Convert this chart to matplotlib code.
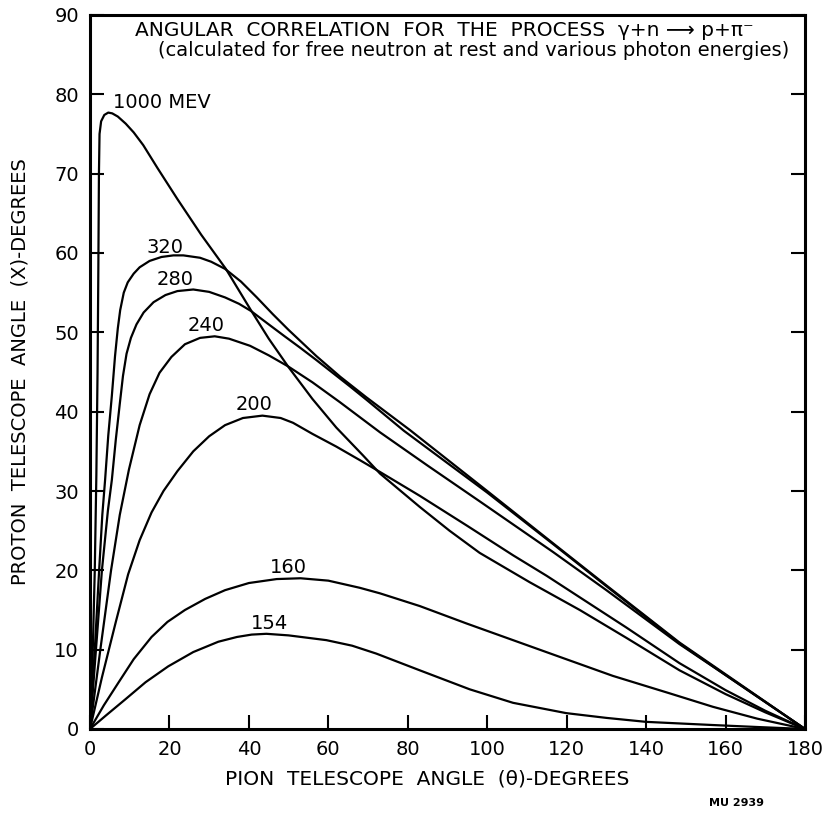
import matplotlib
matplotlib.use("Agg")
import matplotlib.pyplot as plt

# curve points: (pion angle, proton angle) in degrees
x_1000 = [0, 0.6, 1.2, 1.6, 1.9, 2.1, 2.25, 2.4, 2.8, 3.6, 4.6, 5.6, 7, 9, 11, 13.4, 17, 22, 28, 34.2,
          40.5, 45, 50, 56, 62, 68.7, 73, 83, 90.5, 98.1, 110.7, 123.3, 135, 148.4, 160, 170, 180]
y_1000 = [0, 8, 20, 32, 45, 58, 70, 75, 76.6, 77.4, 77.7, 77.6, 77.2, 76.3, 75.2, 73.6, 70.7, 66.8, 62.3, 58.0,
          52.8, 49.2, 45.6, 41.6, 38.0, 34.5, 32.2, 28.0, 25.0, 22.2, 18.5, 15.0, 11.5, 7.4, 4.4, 2.1, 0]

x_320 = [0, 1.2, 2.3, 3.1, 3.8, 4.6, 5.5, 6.3, 7.0, 7.6, 8.5, 9.5, 11, 12.5, 15, 18, 21, 23.5, 27.7, 30.5,
         34, 38, 42, 46, 50, 57, 63, 69.6, 80.5, 100, 116.6, 130, 148.4, 160, 170, 180]
y_320 = [0, 10, 20, 27, 31.4, 37, 42, 47, 50.5, 52.8, 55.0, 56.3, 57.4, 58.2, 59.0, 59.5, 59.7, 59.7, 59.4, 58.9,
         58.0, 56.4, 54.4, 52.3, 50.3, 47.0, 44.4, 41.8, 37.7, 30.0, 23.4, 18.1, 10.9, 6.9, 3.45, 0]

x_280 = [0, 1.5, 3.0, 4.5, 5.5, 6.5, 7.5, 8.3, 9.2, 10.3, 11.7, 13.5, 16, 19, 22, 26, 30, 34, 37.5, 40.5,
         45, 49, 52.8, 57, 65.4, 69.6, 79, 100, 116.6, 130, 148.4, 160, 170, 180]
y_280 = [0, 10, 20, 27.5, 31.4, 36.5, 41, 44.5, 47.3, 49.3, 51.0, 52.5, 53.8, 54.7, 55.2, 55.4, 55.1, 54.4, 53.6, 52.7,
         51.0, 49.5, 48.1, 46.5, 43.2, 41.5, 37.6, 29.8, 23.3, 18.0, 10.8, 6.8, 3.4, 0]

x_240 = [0, 2.6, 5.3, 7.5, 9.8, 12.5, 15, 17.5, 20.5, 23.9, 27.7, 31.4, 35, 40.3, 45, 49.9, 56, 62.9, 73,
         85, 98.1, 116.6, 130, 148.4, 160, 170, 180]
y_240 = [0, 10, 20, 27, 32.7, 38.3, 42.2, 44.9, 46.9, 48.5, 49.3, 49.5, 49.2, 48.3, 47.1, 45.7, 43.7, 41.2, 37.4,
         33.2, 28.7, 22.3, 17.5, 10.7, 6.8, 3.4, 0]

x_200 = [0, 3, 6.5, 9.6, 12.5, 15.5, 18.5, 22, 26, 30, 34, 38.5, 43.4, 48, 51.1, 56, 62, 67.9, 73, 83,
         95, 106.5, 115, 123.3, 135, 148.4, 160, 170, 180]
y_200 = [0, 6.5, 13.5, 19.5, 23.8, 27.3, 30.0, 32.5, 35.0, 36.9, 38.3, 39.2, 39.5, 39.2, 38.6, 37.2, 35.6, 33.9, 32.4, 29.4,
         25.6, 21.9, 19.3, 16.6, 12.8, 8.3, 4.9, 2.3, 0]

x_160 = [0, 3.5, 7.1, 11, 15.5, 19.5, 23.9, 29, 34, 40, 47, 53, 60, 67.9, 73, 83, 94.8, 106.5, 118.2,
         131.6, 145.9, 156.8, 168, 180]
y_160 = [0, 3.0, 5.8, 8.8, 11.6, 13.5, 15.0, 16.4, 17.5, 18.4, 18.9, 19.0, 18.7, 17.8, 17.1, 15.5, 13.3, 11.2, 9.1,
         6.7, 4.5, 2.8, 1.3, 0]

x_154 = [0, 4, 8.8, 14, 19.7, 26, 32.3, 37, 40.7, 44.4, 50, 59.5, 66, 72.1, 83, 95.6, 106.5, 119.9, 130,
         140, 156.8, 168, 180]
y_154 = [0, 1.7, 3.7, 5.9, 7.9, 9.7, 11.0, 11.6, 11.9, 12.0, 11.8, 11.2, 10.5, 9.5, 7.4, 5.0, 3.3, 2.0, 1.4,
         0.9, 0.5, 0.25, 0]

curves = [(x_1000, y_1000), (x_320, y_320), (x_280, y_280), (x_240, y_240),
          (x_200, y_200), (x_160, y_160), (x_154, y_154)]
curve_labels = ["1000 MEV", "320", "280", "240", "200", "160", "154"]
label_x = [5.8, 18.9, 21.5, 29.2, 41.2, 49.9, 45.1]
label_y = [79.0, 60.7, 56.6, 50.8, 40.9, 20.3, 13.3]

x_ticks = list(range(0, 181, 20))
y_ticks = list(range(0, 91, 10))

fig = plt.figure(figsize=(8.28, 8.16), dpi=100)
ax = fig.add_axes([90 / 828, 1 - 729 / 816, 715 / 828, 714 / 816])

for xs, ys in curves:
    ax.plot(xs, ys, color='black', linewidth=1.6, solid_joinstyle='round')

for i, lab in enumerate(curve_labels):
    ha = 'left' if i == 0 else 'center'
    ax.text(label_x[i], label_y[i], lab, ha=ha, va='center', fontsize=14)

ax.text(89.3, 88.0, "ANGULAR  CORRELATION  FOR  THE  PROCESS  γ+n ⟶ p+π⁻",
        ha='center', va='center', fontsize=14.5)
ax.text(96.6, 85.5, "(calculated for free neutron at rest and various photon energies)",
        ha='center', va='center', fontsize=14)

ax.set_xlim(0, 180)
ax.set_ylim(0, 90)
ax.set_xticks(x_ticks)
ax.set_yticks(y_ticks)
ax.tick_params(direction='in', length=10, width=1.5, labelsize=14, pad=8,
               right=True, top=False)
for sp in ax.spines.values():
    sp.set_linewidth(2.2)

fig.text(20 / 828, 1 - 372 / 816, "PROTON  TELESCOPE  ANGLE  (X)-DEGREES",
         rotation=90, ha='center', va='center', fontsize=14)
fig.text(427.5 / 828, 1 - 779 / 816, "PION  TELESCOPE  ANGLE  (θ)-DEGREES",
         ha='center', va='center', fontsize=14.5)
fig.text(737 / 828, 1 - 803 / 816, "MU 2939", ha='center', va='center',
         fontsize=8, fontweight='bold')

fig.savefig("out.png", dpi=100)
